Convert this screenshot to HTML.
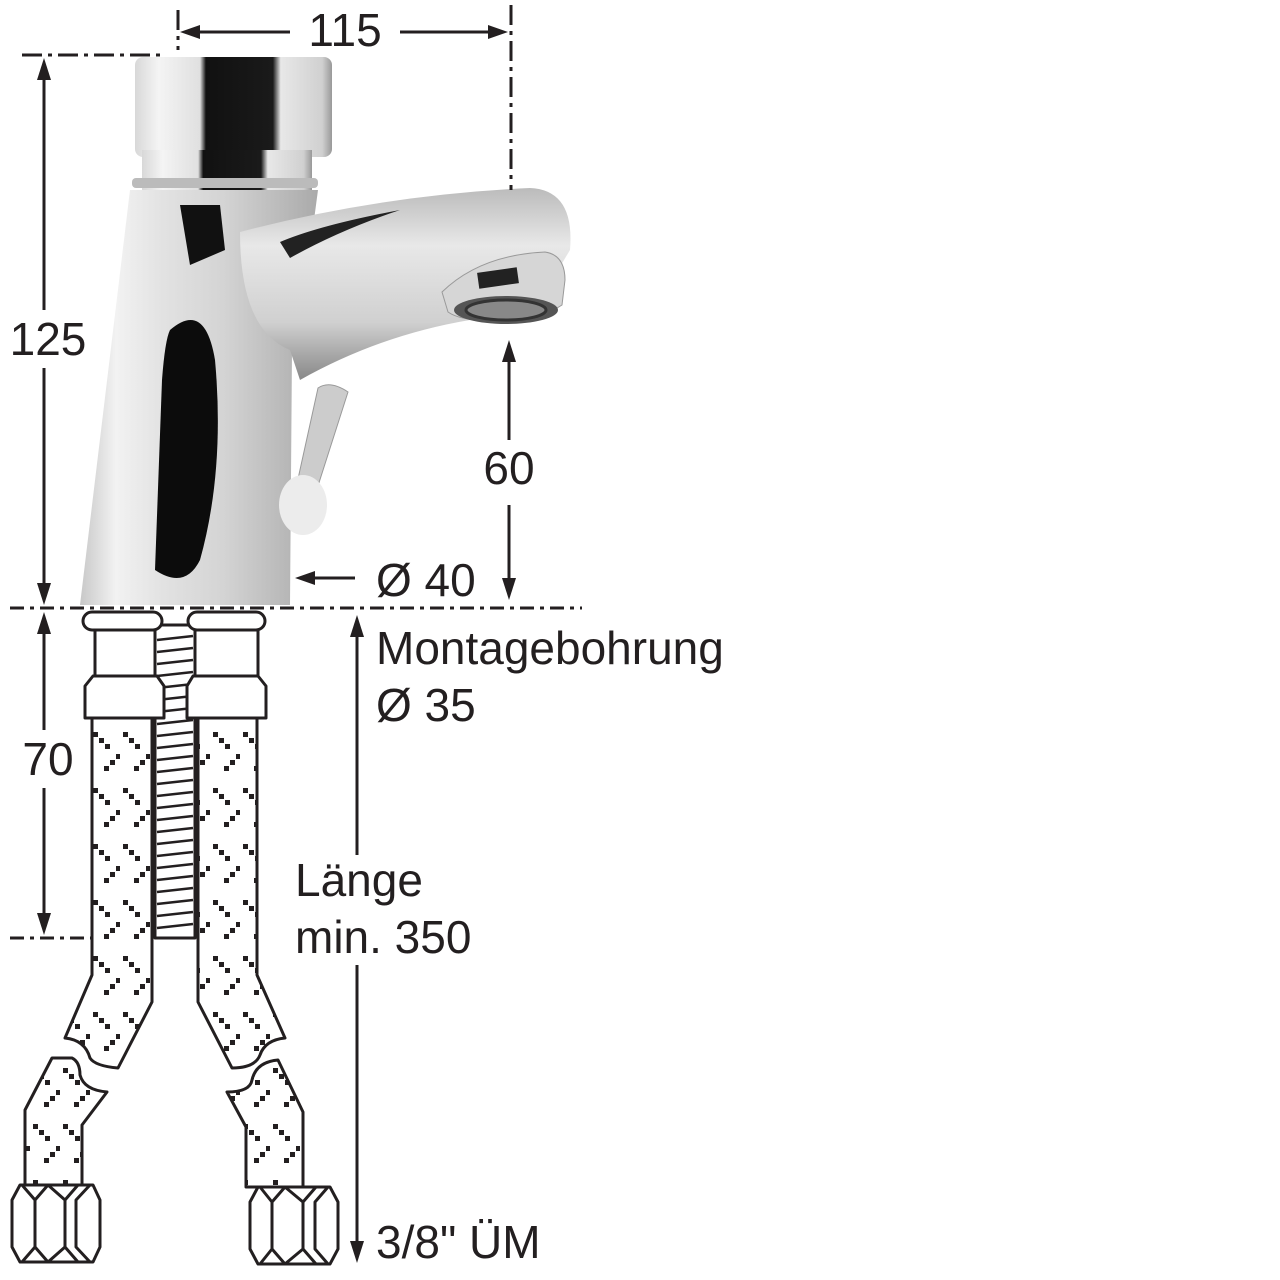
<!DOCTYPE html>
<html><head><meta charset="utf-8"><style>
html,body{margin:0;padding:0;background:#fff;}
svg{display:block;}
text{font-family:"Liberation Sans",sans-serif;fill:#231f20;}
</style></head><body>
<svg width="1280" height="1280" viewBox="0 0 1280 1280" xmlns="http://www.w3.org/2000/svg">
<defs>
<linearGradient id="cap" x1="0" x2="1" y1="0" y2="0">
<stop offset="0" stop-color="#d8d8d8"/><stop offset="0.12" stop-color="#f4f4f4"/><stop offset="0.33" stop-color="#e0e0e0"/>
<stop offset="0.36" stop-color="#111"/><stop offset="0.7" stop-color="#1a1a1a"/><stop offset="0.74" stop-color="#e8e8e8"/>
<stop offset="0.95" stop-color="#d0d0d0"/><stop offset="1" stop-color="#999"/></linearGradient>
<linearGradient id="body" x1="0" x2="1" y1="0" y2="0">
<stop offset="0" stop-color="#c8c8c8"/><stop offset="0.15" stop-color="#f2f2f2"/><stop offset="0.35" stop-color="#e2e2e2"/>
<stop offset="0.6" stop-color="#d4d4d4"/><stop offset="1" stop-color="#aaa"/></linearGradient>
<linearGradient id="spout" x1="0" x2="0" y1="0" y2="1">
<stop offset="0" stop-color="#bbb"/><stop offset="0.3" stop-color="#e8e8e8"/><stop offset="0.7" stop-color="#d0d0d0"/><stop offset="1" stop-color="#888"/></linearGradient>
<pattern id="braid" width="30" height="56" patternUnits="userSpaceOnUse">
<rect x="0" y="0" width="30" height="56" fill="#fff"/>
<g fill="#231f20">
<rect x="3" y="4" width="5" height="5"/><rect x="9" y="10" width="5" height="5"/><rect x="15" y="16" width="5" height="5"/>
<rect x="14" y="38" width="5" height="5"/><rect x="20" y="32" width="5" height="5"/><rect x="26" y="26" width="5" height="5"/>
</g></pattern>
</defs>

<!-- Faucet -->
<path d="M130,190 L318,190 L310,250 L292,350 L290,605 L80,605 Z" fill="url(#body)"/>
<path d="M180,205 L220,205 L225,250 L190,265 Z" fill="#111"/>
<path d="M170,330 Q205,300 215,360 Q225,470 200,560 Q185,590 155,570 L162,380 Q165,340 170,330 Z" fill="#0c0c0c"/>
<path d="M240,232 Q380,195 530,188 Q575,190 570,250 L540,300 L470,320 Q380,335 300,380 L290,350 Q240,330 240,232 Z" fill="url(#spout)"/>
<path d="M280,242 Q320,225 400,210 Q340,230 290,258 Z" fill="#222"/>
<path d="M442,292 Q480,255 545,252 Q565,255 565,280 L562,305 Q540,320 500,320 Q462,322 448,312 Z" fill="#d6d6d6" stroke="#999" stroke-width="1"/>
<rect x="478" y="270" width="40" height="16" fill="#222" transform="rotate(-8 498 278)"/>
<ellipse cx="506" cy="310" rx="52" ry="14" fill="#555"/>
<ellipse cx="506" cy="310" rx="40" ry="10" fill="#888" stroke="#333" stroke-width="3"/>
<rect x="135" y="57" width="197" height="100" rx="8" fill="url(#cap)"/>
<rect x="142" y="150" width="170" height="40" fill="url(#cap)"/>
<rect x="132" y="178" width="186" height="10" rx="4" fill="#bbb"/>
<path d="M318,388 Q330,380 348,392 L316,492 L296,488 Z" fill="#ccc" stroke="#999"/>
<ellipse cx="303" cy="505" rx="24" ry="30" fill="#ececec"/>

<!-- Dimension lines -->
<g stroke="#231f20" stroke-width="3" fill="none">
<line x1="22" y1="55" x2="165" y2="55" stroke-dasharray="20,6,4,6"/>
<line x1="178" y1="10" x2="178" y2="50" stroke-dasharray="20,6,4,6"/>
<line x1="511" y1="5" x2="511" y2="190" stroke-dasharray="20,6,4,6"/>
<line x1="10" y1="608" x2="582" y2="608" stroke-dasharray="14,6,4,6"/>
<line x1="10" y1="938" x2="92" y2="938" stroke-dasharray="14,6,4,6"/>
<line x1="195" y1="32" x2="290" y2="32"/>
<line x1="400" y1="32" x2="495" y2="32"/>
<line x1="44" y1="70" x2="44" y2="310"/>
<line x1="44" y1="368" x2="44" y2="590"/>
<line x1="44" y1="625" x2="44" y2="730"/>
<line x1="44" y1="788" x2="44" y2="920"/>
<line x1="509" y1="355" x2="509" y2="440"/>
<line x1="509" y1="505" x2="509" y2="585"/>
<line x1="310" y1="578" x2="355" y2="578"/>
<line x1="357" y1="630" x2="357" y2="855"/>
<line x1="357" y1="965" x2="357" y2="1250"/>
</g>
<g fill="#231f20">
<path d="M180,32 L200,25 L200,39 Z"/>
<path d="M508,32 L488,25 L488,39 Z"/>
<path d="M44,58 L37,80 L51,80 Z"/>
<path d="M44,605 L37,583 L51,583 Z"/>
<path d="M44,612 L37,634 L51,634 Z"/>
<path d="M44,935 L37,913 L51,913 Z"/>
<path d="M509,340 L502,362 L516,362 Z"/>
<path d="M509,600 L502,578 L516,578 Z"/>
<path d="M295,578 L315,571 L315,585 Z"/>
<path d="M357,615 L350,637 L364,637 Z"/>
<path d="M357,1263 L350,1241 L364,1241 Z"/>
</g>

<!-- Labels -->
<g font-size="46">
<text x="345" y="46" text-anchor="middle">115</text>
<text x="48" y="355" text-anchor="middle">125</text>
<text x="509" y="484" text-anchor="middle">60</text>
<text x="376" y="596">Ø 40</text>
<text x="48" y="775" text-anchor="middle">70</text>
<text x="376" y="664">Montagebohrung</text>
<text x="376" y="721">Ø 35</text>
<text x="295" y="896">Länge</text>
<text x="295" y="953">min. 350</text>
<text x="376" y="1258">3/8" ÜM</text>
</g>

<!-- Hoses -->
<g stroke="#231f20" stroke-width="3" stroke-linejoin="round">
<rect x="155" y="625" width="40" height="313" fill="#fff"/>
<path fill="none" stroke-width="2.5" d="M157,640 L193,636 M157,652 L193,648 M157,664 L193,660 M157,676 L193,672 M157,688 L193,684 M157,700 L193,696 M157,712 L193,708 M157,724 L193,720 M157,736 L193,732 M157,748 L193,744 M157,760 L193,756 M157,772 L193,768 M157,784 L193,780 M157,796 L193,792 M157,808 L193,804 M157,820 L193,816 M157,832 L193,828 M157,844 L193,840 M157,856 L193,852 M157,868 L193,864 M157,880 L193,876 M157,892 L193,888 M157,904 L193,900 M157,916 L193,912 M157,928 L193,924"/>
<path d="M92,718 L152,718 L152,1002 L118,1068 Q95,1066 90,1058 Q85,1040 65,1038 L92,975 Z" fill="url(#braid)"/>
<path d="M198,718 L257,718 L257,975 L285,1038 Q265,1040 260,1055 Q255,1068 232,1068 L198,1002 Z" fill="url(#braid)"/>
<rect x="83" y="612" width="79" height="18" rx="9" fill="#fff"/>
<rect x="95" y="630" width="60" height="46" fill="#fff"/>
<path d="M93,676 L157,676 L164,686 L164,718 L85,718 L85,686 Z" fill="#fff"/>
<rect x="188" y="612" width="77" height="18" rx="9" fill="#fff"/>
<rect x="195" y="630" width="63" height="46" fill="#fff"/>
<path d="M193,676 L258,676 L266,686 L266,718 L187,718 L187,686 Z" fill="#fff"/>
<path d="M52,1058 L72,1058 Q80,1062 80,1075 Q84,1090 107,1092 L82,1125 L82,1185 L25,1185 L25,1110 Z" fill="url(#braid)"/>
<path d="M278,1060 L303,1112 L303,1187 L246,1187 L246,1127 L227,1092 Q250,1092 252,1080 Q256,1062 278,1060 Z" fill="url(#braid)"/>
<path d="M20,1185 L93,1185 L100,1200 L100,1247 L93,1262 L20,1262 L12,1247 L12,1200 Z" fill="#fff"/>
<path fill="none" d="M22,1185 L35,1200 L35,1247 L22,1262 M48,1185 L35,1200 M48,1262 L35,1247 M48,1185 L65,1200 L65,1247 L48,1262 M90,1185 L76,1200 L76,1247 L90,1262 M65,1200 L78,1185 M65,1247 L78,1262"/>
<path d="M258,1187 L330,1187 L338,1202 L338,1249 L330,1264 L258,1264 L250,1249 L250,1202 Z" fill="#fff"/>
<path fill="none" d="M260,1187 L272,1202 L272,1249 L260,1264 M285,1187 L272,1202 M285,1264 L272,1249 M285,1187 L303,1202 L303,1249 L285,1264 M328,1187 L315,1202 L315,1249 L328,1264 M303,1202 L316,1187 M303,1249 L316,1264"/>
</g>
</svg>
</body></html>
